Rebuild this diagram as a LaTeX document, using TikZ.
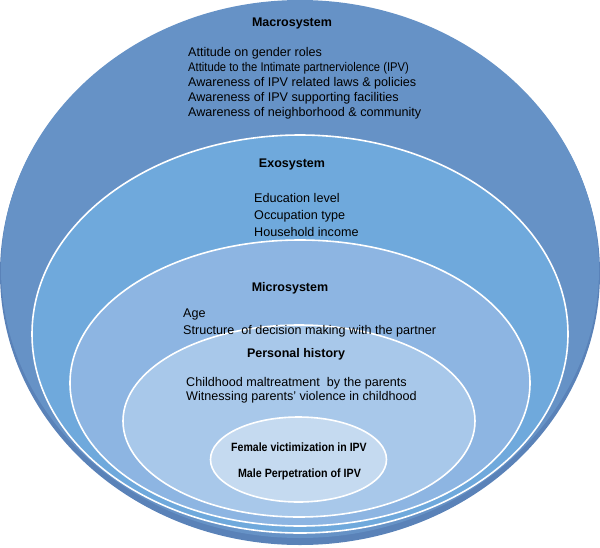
\documentclass[tikz,border=0pt]{standalone}
\usepackage{fontspec}
\setmainfont{Liberation Sans}
\usepackage{graphicx}
\usetikzlibrary{shapes.geometric}
\definecolor{cmacro}{HTML}{6692C6}
\definecolor{cmacrodk}{HTML}{5A82B8}
\definecolor{cexo}{HTML}{6FA9DC}
\definecolor{cmicro}{HTML}{8DB5E2}
\definecolor{cpers}{HTML}{A8C8EA}
\definecolor{ccore}{HTML}{C5DAF0}
\begin{document}
\begin{tikzpicture}[x=1pt,y=-1pt,
  ring/.style={ellipse, draw=white, line width=1.6pt, inner sep=0pt},
  head/.style={anchor=base, font=\bfseries\fontsize{12.5}{15}\selectfont, inner sep=0pt},
  item/.style={anchor=base west, font=\fontsize{12.6}{15}\selectfont, inner sep=0pt},
  core/.style={anchor=base, font=\bfseries\fontsize{12}{14}\selectfont, inner sep=0pt}]
\useasboundingbox (0,0) rectangle (600,547);
% outer ring with darker lower rim
\node[ellipse, fill=cmacrodk, inner sep=0pt, minimum width=600pt, minimum height=544pt] (macro) at (300,273) {};
\fill[cmacro] (300,269) ellipse [x radius=299pt, y radius=269pt];
\node[ring, fill=cexo, minimum width=536pt, minimum height=398pt] (exo) at (300,334) {};
\node[ring, fill=cmicro, minimum width=460pt, minimum height=286pt] (micro) at (300,383) {};
\node[ring, fill=cpers, minimum width=352pt, minimum height=192pt] (pers) at (299,421) {};
\node[ring, fill=ccore, minimum width=176pt, minimum height=85pt] (core) at (298.5,459.5) {};
% Macrosystem
\node[head] (macroh) at (292,26.5) {Macrosystem};
\node[item] (ma1) at (188,56.5) {Attitude on gender roles};
\node[item] (ma2) at (188,71.5) {\scalebox{0.89}[1]{Attitude to the Intimate partnerviolence (IPV)}};
\node[item] (ma3) at (188,86.5) {Awareness of IPV related laws \& policies};
\node[item] (ma4) at (188,101.5) {Awareness of IPV supporting facilities};
\node[item] (ma5) at (188,116.5) {Awareness of neighborhood \& community};
% Exosystem
\node[head] (exoh) at (292,167) {Exosystem};
\node[item] (ex1) at (254,202) {Education level};
\node[item] (ex2) at (254,219.5) {Occupation type};
\node[item] (ex3) at (254,236.5) {Household income};
% Microsystem
\node[head] (microh) at (290,291.5) {Microsystem};
\node[item] (mi1) at (183,317) {Age};
\node[item] (mi2) at (183,334.5) {Structure\ \ of decision making with the partner};
% Personal history
\node[head] (persh) at (296,357.5) {Personal history};
\node[item] (pe1) at (186,386.5) {Childhood maltreatment\ \ by the parents};
\node[item] (pe2) at (186,400.5) {Witnessing parents’ violence in childhood};
% Core
\node[core] (co1) at (299,451) {\scalebox{0.88}[1]{Female victimization in IPV}};
\node[core] (co2) at (299.5,477) {\scalebox{0.89}[1]{Male Perpetration of IPV}};
\end{tikzpicture}
\end{document}
